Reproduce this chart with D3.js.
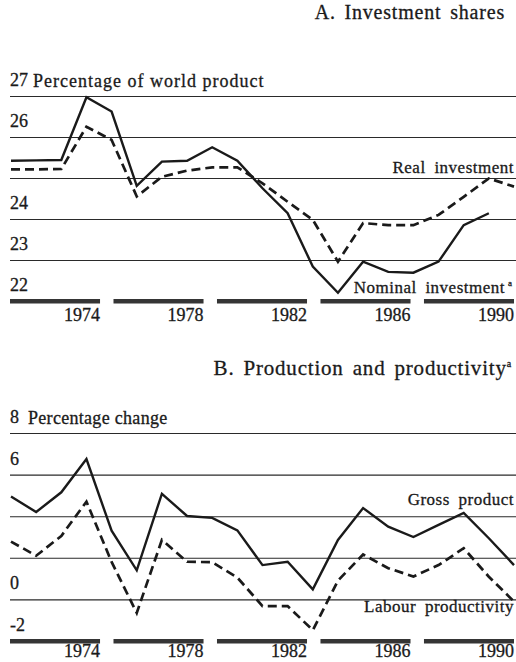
<!DOCTYPE html>
<html>
<head>
<meta charset="utf-8">
<script src="https://cdn.jsdelivr.net/npm/d3@7"></script>
<style>
    body { margin: 0; background: #fff; }
    svg { display: block; }
    svg text { fill: #1a1a1a; stroke: #1a1a1a; stroke-width: 0.3; font-family: "Liberation Serif", "DejaVu Serif", "Times New Roman", serif; }
    .grid line { stroke: #2a2a2a; stroke-width: 1.1; }
    .grid .domain { display: none; }
    .line { fill: none; stroke: #1a1a1a; stroke-width: 2.4; }
    .dashed { stroke-dasharray: 9, 5; stroke-width: 2.7; }
    .period { fill: #353535; }
</style>
</head>
<body>
<div class="container"></div>
<script>
var years = [1970, 1971, 1972, 1973, 1974, 1975, 1976, 1977, 1978, 1979, 1980,
    1981, 1982, 1983, 1984, 1985, 1986, 1987, 1988, 1989, 1990];
var periods = ['1974', '1978', '1982', '1986', '1990'];

// panel A, percentage of world product (nominal stops at 1989)
var nominalInvestment = [25.42, 25.43, 25.44, 26.97, 26.62, 24.81, 25.4, 25.42, 25.75, 25.42,
    24.75, 24.14, 22.84, 22.2, 22.96, 22.71, 22.69, 22.96, 23.85, 24.14];
var realInvestment = [25.21, 25.21, 25.22, 26.25, 25.93, 24.55, 25.03, 25.18, 25.26, 25.26,
    24.87, 24.42, 23.98, 22.96, 23.9, 23.85, 23.85, 24.1, 24.54, 24.99, 24.79];

// panel B, percentage change
var grossProduct = [4.95, 4.2, 5.15, 6.75, 3.3, 1.4, 5.08, 4.01, 3.92, 3.32,
    1.65, 1.81, 0.48, 2.86, 4.39, 3.5, 3.0, 3.58, 4.16, 2.94, 1.65];
var labourProductivity = [2.78, 2.1, 3.05, 4.7, 1.8, -0.65, 2.86, 1.81, 1.79, 1.05,
    -0.32, -0.32, -1.48, 0.9, 2.16, 1.5, 1.1, 1.65, 2.46, 1.09, -0.1];

var gridA = [27, 26, 25, 24, 23];
var tickLabelsA = [27, 26, 24, 23, 22];
var gridB = [8, 6, 4, 2, 0];
var tickLabelsB = [8, 6, 0, -2];

var drawChart = function () {

    var WIDTH = 516;
    var HEIGHT = 662;
    var LEFT = 10;

    var svg = d3.select('.container')
        .append('svg')
        .attr('width', WIDTH)
        .attr('height', HEIGHT);

    var xScale = d3.scaleLinear()
        .domain([1970, 1990])
        .range([11, 514]);

    var periodScale = d3.scaleBand()
        .domain(periods)
        .range([10, 514])
        .paddingInner(0.13);

    var drawPanel = function (p) {
        var yScale = d3.scaleLinear()
            .domain(p.domain)
            .range(p.range);

        var g = svg.append('g');

        // title
        var title = g.append('text')
            .attr('x', p.titleX)
            .attr('y', p.titleY)
            .attr('text-anchor', 'end')
            .style('font-size', p.titleSize)
            .style('letter-spacing', '0.8px')
            .style('word-spacing', '3px')
            .text(p.title);
        if (p.titleSup) {
            title.append('tspan')
                .attr('dy', -8)
                .style('font-size', '10px')
                .text('a');
        }

        // gridlines
        g.append('g')
            .attr('class', 'grid')
            .attr('transform', 'translate(' + LEFT + ',0)')
            .call(d3.axisRight(yScale).tickValues(p.grid).tickSize(WIDTH - LEFT).tickFormat(''));

        // tick labels sit above their gridline
        g.selectAll('.tick-label')
            .data(p.tickLabels)
            .enter()
            .append('text')
            .attr('x', LEFT)
            .attr('y', function (d) { return yScale(d) - 10; })
            .style('font-size', '18px')
            .text(function (d) { return d; });

        g.append('text')
            .attr('x', p.unitX)
            .attr('y', yScale(p.domain[1]) - 9)
            .style('font-size', '18px')
            .style('letter-spacing', p.unitSpacing)
            .text(p.unit);

        // period bars along the bottom
        g.selectAll('.period')
            .data(periods)
            .enter()
            .append('rect')
            .attr('class', 'period')
            .attr('x', function (d) { return periodScale(d); })
            .attr('y', yScale(p.domain[0]) - 2)
            .attr('width', periodScale.bandwidth())
            .attr('height', 4.5);

        g.selectAll('.year')
            .data(periods)
            .enter()
            .append('text')
            .attr('x', function (d) { return periodScale(d) + periodScale.bandwidth(); })
            .attr('y', p.yearY)
            .attr('text-anchor', 'end')
            .style('font-size', '18px')
            .text(function (d) { return d; });

        var line = d3.line()
            .x(function (d, i) { return xScale(years[i]); })
            .y(function (d) { return yScale(d); });

        g.append('path')
            .attr('d', line(p.solid))
            .classed('line', true);

        g.append('path')
            .attr('d', line(p.dashed))
            .classed('line', true)
            .classed('dashed', true);

        p.labels.forEach(function (l) {
            g.append('text')
                .attr('x', l.sup ? 505 : 514)
                .attr('y', l.y)
                .attr('text-anchor', 'end')
                .style('font-size', '17px')
                .style('letter-spacing', '0.5px')
                .style('word-spacing', '4px')
                .text(l.text);
            if (l.sup) {
                g.append('text')
                    .attr('x', 508)
                    .attr('y', l.y - 7)
                    .style('font-size', '9px')
                    .text('a');
            }
        });
    };

    drawPanel({
        title: 'A. Investment shares',
        titleX: 505,
        titleY: 19,
        titleSize: '20px',
        unit: 'Percentage of world product',
        unitX: 33,
        unitSpacing: '1px',
        domain: [22, 27],
        range: [301, 96],
        grid: gridA,
        tickLabels: tickLabelsA,
        yearY: 321,
        solid: nominalInvestment,
        dashed: realInvestment,
        labels: [
            {text: 'Real investment', y: 173},
            {text: 'Nominal investment', y: 293, sup: true}
        ]
    });

    drawPanel({
        title: 'B. Production and productivity',
        titleSup: true,
        titleX: 512,
        titleY: 375,
        titleSize: '21px',
        unit: 'Percentage change',
        unitX: 28,
        unitSpacing: '0.3px',
        domain: [-2, 8],
        range: [641, 433],
        grid: gridB,
        tickLabels: tickLabelsB,
        yearY: 657,
        solid: grossProduct,
        dashed: labourProductivity,
        labels: [
            {text: 'Gross product', y: 505},
            {text: 'Labour productivity', y: 612}
        ]
    });
};

window.onload = drawChart;
</script>
</body>
</html>
